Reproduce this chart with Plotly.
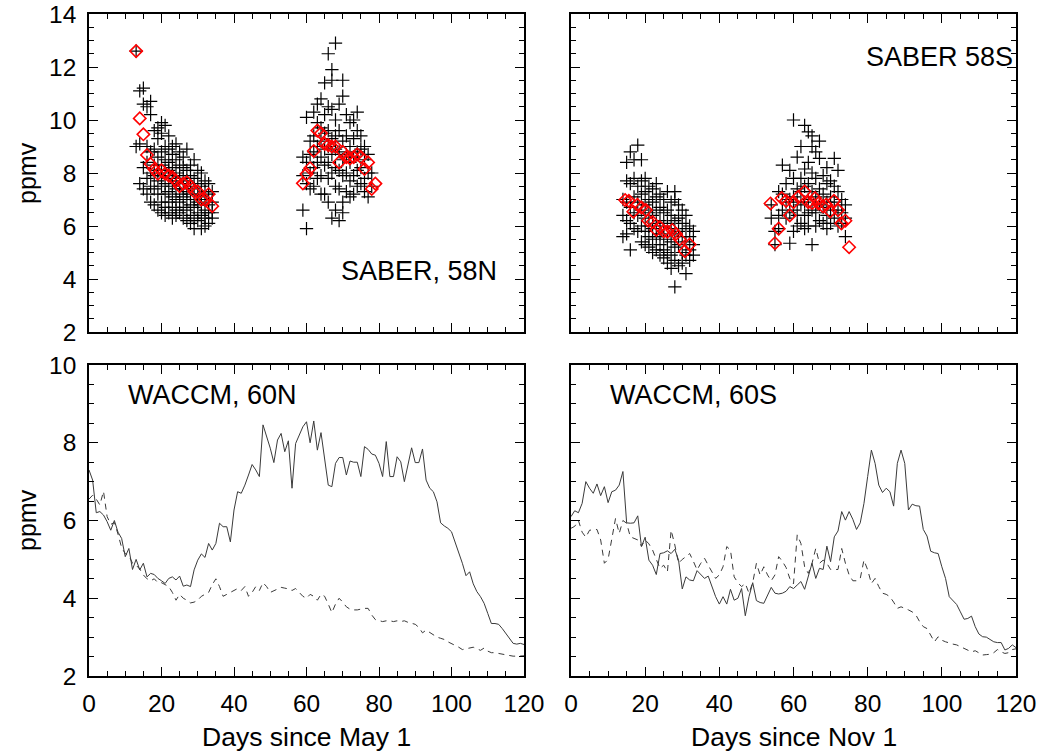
import plotly.graph_objects as go

# ---------------- SABER individual retrievals (day -> ppmv) ----------------
saber_58n_points = {
    13: [12.6, 9.0],
    14: [11.1, 9.1, 7.6],
    15: [11.2, 10.6, 8.2, 7.4],
    16: [10.5, 9.0, 8.4, 7.8, 7.2],
    17: [10.7, 10.2, 8.8, 8.0, 7.5, 6.9],
    18: [9.6, 8.9, 8.3, 7.9, 7.4, 6.8],
    19: [9.7, 9.3, 8.6, 8.1, 7.7, 7.2, 6.6],
    20: [9.9, 9.5, 8.8, 8.3, 7.9, 7.5, 6.9, 6.5],
    21: [9.8, 9.0, 8.5, 8.0, 7.6, 7.2, 6.7, 6.4],
    22: [9.4, 8.9, 8.4, 8.1, 7.8, 7.3, 6.9, 6.5],
    23: [9.0, 8.7, 8.2, 7.9, 7.5, 7.1, 6.7, 6.3],
    24: [9.1, 8.5, 8.0, 7.7, 7.4, 7.0, 6.6, 6.4],
    25: [8.8, 8.3, 7.9, 7.6, 7.2, 6.9, 6.5],
    26: [8.6, 8.2, 7.8, 7.4, 7.1, 6.7, 6.3],
    27: [8.9, 8.1, 7.7, 7.3, 7.0, 6.6, 6.2],
    28: [8.3, 7.9, 7.5, 7.2, 6.8, 6.4, 6.1],
    29: [8.5, 7.8, 7.4, 7.0, 6.7, 6.3, 5.9],
    30: [8.1, 7.6, 7.2, 6.9, 6.5, 6.2],
    31: [8.0, 7.5, 7.1, 6.8, 6.4, 5.9],
    32: [7.7, 7.3, 7.0, 6.6, 6.3, 6.0],
    33: [7.6, 7.2, 6.8, 6.5, 6.1],
    34: [7.3, 6.9, 6.5, 6.3],
    59: [8.6, 7.9, 6.6],
    60: [10.1, 8.4, 7.6, 5.9],
    61: [9.2, 8.7, 8.0, 7.4],
    62: [10.3, 9.4, 8.8, 8.2, 7.5],
    63: [10.6, 9.9, 9.0, 8.4, 7.8],
    64: [10.8, 9.7, 9.2, 8.6, 7.9, 7.2],
    65: [11.4, 10.2, 9.5, 8.9, 8.3, 7.2],
    66: [12.5, 10.5, 9.6, 9.0, 8.4, 7.8, 6.9],
    67: [11.9, 11.5, 10.4, 9.3, 8.7, 8.0, 6.3],
    68: [12.9, 10.0, 9.4, 8.9, 8.2, 7.5, 6.6],
    69: [10.6, 9.6, 8.8, 8.1, 7.4, 6.2],
    70: [11.5, 10.9, 9.2, 8.5, 7.9, 6.9, 6.5],
    71: [10.2, 9.4, 8.7, 8.0, 7.3],
    72: [9.9, 9.0, 8.4, 7.7, 7.1],
    73: [10.0, 9.3, 8.6, 7.9, 7.2],
    74: [10.3, 9.6, 8.8, 8.1, 7.5],
    75: [9.4, 8.9, 8.2, 7.6],
    76: [9.0, 8.5, 7.8, 7.3],
    77: [8.7, 8.0, 7.1],
    78: [8.0, 7.5],
}

saber_58s_points = {
    14: [7.0, 6.4, 5.6],
    15: [8.4, 7.7, 6.9, 6.2, 5.7],
    16: [8.8, 7.6, 6.7, 6.1, 5.1],
    17: [8.5, 7.8, 7.1, 6.5, 5.9],
    18: [9.05, 7.5, 6.9, 6.4, 5.8],
    19: [8.5, 7.7, 7.2, 6.6, 6.0, 5.4],
    20: [7.8, 7.3, 6.8, 6.3, 5.8, 5.3],
    21: [7.5, 7.0, 6.5, 6.0, 5.6, 5.2],
    22: [7.4, 6.9, 6.4, 5.9, 5.5, 5.0],
    23: [7.6, 7.1, 6.6, 6.1, 5.6, 5.1],
    24: [7.2, 6.7, 6.2, 5.7, 5.3, 4.9],
    25: [7.0, 6.5, 6.0, 5.6, 5.1, 4.8],
    26: [7.3, 6.6, 6.1, 5.5, 5.0, 4.6],
    27: [6.9, 6.4, 5.9, 5.4, 4.9, 4.4],
    28: [7.3, 7.0, 6.2, 5.7, 5.2, 4.7, 3.7],
    29: [6.8, 6.3, 5.8, 5.3, 4.5],
    30: [6.6, 6.1, 5.6, 5.0, 4.6],
    31: [6.4, 5.9, 5.4, 4.9, 4.2],
    32: [6.0, 5.6, 5.1, 4.7],
    33: [5.8, 5.3, 4.9],
    54: [6.8, 6.3],
    55: [5.8, 5.3],
    56: [7.3, 6.4, 5.9],
    57: [8.3, 7.2, 6.6],
    58: [7.6, 6.9, 6.3],
    59: [8.1, 7.0, 6.5, 5.35],
    60: [10.0, 7.8, 7.1, 6.6, 5.8],
    61: [8.6, 7.4, 6.9, 6.4, 6.0],
    62: [9.0, 7.8, 7.3, 6.8, 6.1],
    63: [9.8, 8.15, 7.5, 6.9, 6.4, 5.9],
    64: [9.55, 8.4, 7.6, 7.0, 6.5, 6.0],
    65: [9.4, 9.0, 8.0, 7.3, 6.6, 5.3],
    66: [8.8, 7.8, 7.1, 6.5, 6.0],
    67: [9.2, 8.55, 7.4, 6.8, 6.2],
    68: [7.9, 7.2, 6.7, 6.1],
    69: [8.2, 7.6, 6.9, 6.4, 5.9],
    70: [7.7, 7.1, 6.6, 6.1],
    71: [8.55, 7.5, 6.9, 6.3],
    72: [8.1, 7.3, 6.6, 6.0],
    73: [7.0, 6.5, 6.1],
    74: [6.8, 6.3, 5.6],
}

# ---------------- SABER daily means ----------------
saber_58n_mean_days = [13, 14, 15, 16, 17, 18, 19, 20, 21, 22, 23, 24, 25, 26, 27, 28,
                       29, 30, 31, 32, 33, 34,
                       59, 60, 61, 62, 63, 64, 65, 66, 67, 68, 69, 70, 71, 72, 73, 74,
                       75, 76, 77, 78, 79]
saber_58n_mean = [12.6, 10.06, 9.46, 8.68, 8.34, 8.14, 7.97, 8.1, 7.97, 7.9, 7.85, 7.7,
                  7.5, 7.6, 7.65, 7.5, 7.3, 7.3, 7.0, 7.0, 7.2, 6.75,
                  7.61, 7.96, 8.18, 8.83, 9.6, 9.5, 9.1, 9.05, 9.0, 9.0, 8.4, 8.8, 8.6,
                  8.55, 8.6, 8.7, 8.6, 8.15, 8.4, 7.4, 7.6]

saber_58s_mean_days = [14.6, 15.6, 16.8, 17.9, 19.0, 20.2, 20.8, 22.0, 23.0, 24.0, 25.0,
                       26.0, 27.3, 28.3, 29.3, 30.7, 32.0,
                       53.8, 55.0, 56.0, 56.8, 58.0, 59.0, 60.0, 61.3, 63.0, 64.0, 65.0,
                       65.8, 66.7, 67.9, 68.8, 69.9, 70.9, 72.0, 72.9, 74.0, 75.0]
saber_58s_mean = [6.98, 6.95, 6.54, 6.8, 6.7, 6.6, 6.2, 6.15, 5.85, 5.95, 5.8,
                  5.79, 5.85, 5.7, 5.5, 5.05, 5.3,
                  6.85, 5.35, 5.9, 7.05, 6.95, 6.4, 6.9, 7.1, 7.3, 6.9, 6.87,
                  7.05, 6.85, 6.75, 6.8, 6.55, 6.95, 6.6, 6.1, 6.2, 5.2]

# ---------------- WACCM daily series, days 0..120 ----------------
waccm_days = list(range(121))

waccm_60n_solid = [
    7.30, 7.04, 6.20, 6.23, 6.14, 5.97, 5.75, 6.00, 5.70, 5.54,
    5.07, 5.28, 4.74, 5.00, 4.73, 4.90, 4.55, 4.64, 4.61, 4.51,
    4.45, 4.38, 4.51, 4.55, 4.47, 4.57, 4.31, 4.34, 4.30, 4.73,
    4.98, 5.14, 5.05, 5.41, 5.24, 5.41, 5.93, 5.84, 5.84, 5.45,
    6.27, 6.74, 6.70, 6.91, 7.17, 7.44, 7.30, 7.13, 8.46, 8.16,
    7.86, 7.49, 8.07, 8.24, 7.77, 8.05, 6.83, 7.98, 8.20, 8.41,
    8.54, 8.00, 8.56, 7.81, 8.26, 7.56, 6.91, 6.87, 7.47, 7.62,
    7.62, 7.17, 7.53, 7.50, 7.50, 7.13, 7.90, 7.83, 7.71, 7.68,
    7.47, 7.13, 8.03, 7.13, 7.13, 7.64, 7.51, 7.00, 7.47, 7.87,
    7.49, 7.49, 7.84, 7.04, 6.83, 6.74, 6.48, 5.94, 5.86, 5.80,
    5.71, 5.45, 5.15, 4.90, 4.58, 4.68, 4.37, 4.17, 4.04, 3.87,
    3.61, 3.35, 3.35, 3.33, 3.22, 3.10, 2.97, 2.84, 2.82, 2.84, 2.81,
]
waccm_60n_dash = [
    6.55, 6.65, 6.55, 6.40, 6.75, 6.10, 5.90, 5.95, 5.65, 5.30,
    5.15, 5.10, 4.90, 4.85, 4.75, 4.60, 4.50, 4.45, 4.50, 4.40,
    4.40, 4.35, 4.30, 4.15, 3.95, 4.10, 4.00, 3.95, 3.88, 3.90,
    3.95, 4.05, 4.10, 4.15, 4.35, 4.50, 4.30, 4.05, 4.10, 4.15,
    4.20, 4.25, 4.20, 4.30, 4.05, 4.15, 4.30, 4.20, 4.40, 4.30,
    4.15, 4.20, 4.25, 4.28, 4.26, 4.24, 4.20, 4.25, 4.15, 4.05,
    4.00, 4.10, 4.05, 3.95, 4.10, 4.05, 3.85, 3.63, 3.85, 4.00,
    3.90, 3.78, 3.72, 3.70, 3.70, 3.72, 3.74, 3.74, 3.57, 3.45,
    3.42, 3.40, 3.42, 3.42, 3.40, 3.42, 3.40, 3.42, 3.38, 3.35,
    3.33, 3.25, 3.11, 3.18, 3.12, 3.05, 3.00, 2.97, 2.94, 2.88,
    2.84, 2.80, 2.74, 2.68, 2.70, 2.72, 2.74, 2.70, 2.66, 2.72,
    2.64, 2.60, 2.60, 2.58, 2.56, 2.55, 2.53, 2.51, 2.51, 2.51, 2.52,
]
waccm_60s_solid = [
    6.10, 6.25, 6.20, 6.44, 7.00, 6.83, 6.70, 6.94, 6.64, 6.87,
    6.46, 6.74, 6.78, 6.91, 7.26, 5.94, 5.93, 5.94, 6.12, 5.33,
    5.57, 4.98, 4.85, 4.61, 5.15, 5.17, 5.22, 5.15, 5.26, 4.98,
    4.24, 4.55, 4.47, 4.45, 4.71, 4.60, 4.51, 4.57, 4.30, 4.04,
    3.85, 4.04, 3.85, 4.23, 3.95, 4.00, 4.25, 3.55, 4.04, 4.40,
    3.94, 3.89, 3.87, 4.08, 4.28, 4.13, 4.11, 4.13, 4.18, 4.30,
    4.25, 4.34, 4.43, 4.23, 4.55, 4.90, 4.51, 4.77, 4.74, 5.34,
    4.94, 5.58, 5.73, 6.23, 6.01, 6.23, 6.03, 5.77, 5.94, 6.44,
    7.13, 7.81, 7.47, 6.91, 6.72, 6.83, 6.74, 6.37, 7.47, 7.81,
    7.47, 6.27, 6.42, 6.38, 6.37, 5.77, 5.60, 5.21, 5.17, 5.15,
    4.81, 4.51, 4.04, 3.95, 3.84, 3.65, 3.46, 3.48, 3.54, 3.27,
    3.08, 3.01, 3.00, 2.94, 2.88, 2.86, 2.86, 2.67, 2.71, 2.80, 2.73,
]
waccm_60s_dash = [
    5.80, 5.85, 6.00, 5.70, 5.57, 5.75, 5.76, 5.77, 5.50, 4.90,
    5.00, 5.58, 6.05, 5.67, 6.00, 5.93, 5.58, 5.54, 5.50, 5.34,
    5.50, 5.40, 5.24, 5.00, 4.77, 4.85, 4.68, 5.75, 5.37, 4.90,
    5.00, 5.07, 5.15, 4.95, 4.73, 4.90, 5.03, 4.85, 4.68, 4.51,
    4.60, 4.81, 5.33, 5.24, 4.55, 4.40, 4.30, 4.38, 4.13, 4.40,
    4.90, 4.60, 4.81, 4.60, 4.45, 4.60, 5.07, 4.95, 4.79, 4.51,
    4.37, 5.63, 5.41, 4.81, 4.64, 4.90, 5.28, 4.90, 4.98, 4.90,
    4.74, 4.74, 4.74, 5.28, 4.90, 4.60, 4.45, 4.45, 4.51, 4.98,
    4.73, 4.38, 4.51, 4.30, 4.13, 4.10, 4.04, 3.90, 3.74, 3.78,
    3.75, 3.70, 3.65, 3.57, 3.40, 3.27, 3.22, 3.05, 2.88, 3.01,
    2.92, 2.88, 2.84, 2.82, 2.80, 2.76, 2.71, 2.66, 2.62, 2.65,
    2.60, 2.54, 2.55, 2.56, 2.60, 2.68, 2.62, 2.58, 2.60, 2.68, 2.70,
]

x_ticks = [0, 20, 40, 60, 80, 100, 120]
top_y_ticks = [2, 4, 6, 8, 10, 12, 14]
bottom_y_ticks = [2, 4, 6, 8, 10]

FONT = "Liberation Sans, Arial, sans-serif"
W, H = 1052, 754

# panel rectangles in pixels: (left, right, top, bottom)
panels = {
    "tl": (89, 524, 14, 332),
    "tr": (571, 1016, 14, 332),
    "bl": (89, 524, 365, 676),
    "br": (571, 1016, 365, 676),
}


def xdom(p):
    l, r, _, _ = panels[p]
    return [l / W, r / W]


def ydom(p):
    _, _, t, b = panels[p]
    return [1 - b / H, 1 - t / H]


def flatten(points):
    xs, ys = [], []
    for d, vals in points.items():
        for v in vals:
            xs.append(d)
            ys.append(v)
    return xs, ys


fig = go.Figure()

cross = dict(symbol="cross-thin", size=9.5, line=dict(color="black", width=1.2))
diamond = dict(symbol="diamond-open", size=9.5, color="#ff0000",
               line=dict(color="#ff0000", width=1.6))

# top-left: SABER 58N
xs, ys = flatten(saber_58n_points)
fig.add_trace(go.Scatter(x=xs, y=ys, mode="markers", marker=cross,
                         xaxis="x", yaxis="y", showlegend=False))
fig.add_trace(go.Scatter(x=saber_58n_mean_days, y=saber_58n_mean, mode="markers",
                         marker=diamond, xaxis="x", yaxis="y", showlegend=False))

# top-right: SABER 58S
xs, ys = flatten(saber_58s_points)
fig.add_trace(go.Scatter(x=xs, y=ys, mode="markers", marker=cross,
                         xaxis="x2", yaxis="y2", showlegend=False))
fig.add_trace(go.Scatter(x=saber_58s_mean_days, y=saber_58s_mean, mode="markers",
                         marker=diamond, xaxis="x2", yaxis="y2", showlegend=False))

solid = dict(color="#3a3a3a", width=1)
dashed = dict(color="#3a3a3a", width=1, dash="6px,5px")

# bottom-left: WACCM 60N
fig.add_trace(go.Scatter(x=waccm_days, y=waccm_60n_solid, mode="lines", line=solid,
                         xaxis="x3", yaxis="y3", showlegend=False))
fig.add_trace(go.Scatter(x=waccm_days, y=waccm_60n_dash, mode="lines", line=dashed,
                         xaxis="x3", yaxis="y3", showlegend=False))

# bottom-right: WACCM 60S
fig.add_trace(go.Scatter(x=waccm_days, y=waccm_60s_solid, mode="lines", line=solid,
                         xaxis="x4", yaxis="y4", showlegend=False))
fig.add_trace(go.Scatter(x=waccm_days, y=waccm_60s_dash, mode="lines", line=dashed,
                         xaxis="x4", yaxis="y4", showlegend=False))

tick_font = dict(family=FONT, size=24.5, color="black")


def xaxis(p, anchor, labels):
    return dict(
        domain=xdom(p), anchor=anchor, range=[0, 120],
        tickvals=x_ticks, showticklabels=labels, tickfont=tick_font,
        ticks="inside", ticklen=9, tickwidth=1.3, tickcolor="black",
        minor=dict(dtick=5, ticks="inside", ticklen=5, tickwidth=1.3, tickcolor="black"),
        showline=True, linecolor="black", linewidth=1.5, mirror="ticks",
        showgrid=False, zeroline=False, ticklabelstandoff=5,
    )


def yaxis(p, anchor, rng, ticks, labels):
    return dict(
        domain=ydom(p), anchor=anchor, range=rng,
        tickvals=ticks, showticklabels=labels, tickfont=tick_font,
        ticks="inside", ticklen=9, tickwidth=1.3, tickcolor="black",
        minor=dict(dtick=0.5, ticks="inside", ticklen=5, tickwidth=1.3, tickcolor="black"),
        showline=True, linecolor="black", linewidth=1.5, mirror="ticks",
        showgrid=False, zeroline=False, ticklabelstandoff=6,
    )


fig.update_layout(
    width=W, height=H, autosize=False,
    margin=dict(l=0, r=0, t=0, b=0, autoexpand=False),
    paper_bgcolor="white", plot_bgcolor="white",
    xaxis=xaxis("tl", "y", False),
    yaxis=yaxis("tl", "x", [2, 14], top_y_ticks, True),
    xaxis2=xaxis("tr", "y2", False),
    yaxis2=yaxis("tr", "x2", [2, 14], top_y_ticks, False),
    xaxis3=xaxis("bl", "y3", True),
    yaxis3=yaxis("bl", "x3", [2, 10], bottom_y_ticks, True),
    xaxis4=xaxis("br", "y4", True),
    yaxis4=yaxis("br", "x4", [2, 10], bottom_y_ticks, False),
)

label_font = dict(family=FONT, size=27, color="black")
ytitle_font = dict(family=FONT, size=25, color="black")
xtitle_font = dict(family=FONT, size=26.5, color="black")

annotations = [
    dict(text="SABER, 58N", xref="x domain", yref="y domain", x=0.943, y=0.192,
         xanchor="right", yanchor="middle", showarrow=False, font=label_font),
    dict(text="SABER 58S", xref="x2 domain", yref="y2 domain", x=0.998, y=0.865,
         xanchor="right", yanchor="middle", showarrow=False, font=label_font),
    dict(text="WACCM, 60N", xref="x3 domain", yref="y3 domain", x=0.084, y=0.9035,
         xanchor="left", yanchor="middle", showarrow=False, font=label_font),
    dict(text="WACCM, 60S", xref="x4 domain", yref="y4 domain", x=0.083, y=0.9035,
         xanchor="left", yanchor="middle", showarrow=False, font=label_font),
    dict(text="ppmv", xref="paper", yref="paper", x=27 / W, y=1 - 173 / H,
         xanchor="center", yanchor="middle", textangle=-90, showarrow=False, font=ytitle_font),
    dict(text="ppmv", xref="paper", yref="paper", x=27 / W, y=1 - 520 / H,
         xanchor="center", yanchor="middle", textangle=-90, showarrow=False, font=ytitle_font),
    dict(text="Days since May 1", xref="paper", yref="paper", x=306.5 / W, y=1 - 737 / H,
         xanchor="center", yanchor="middle", showarrow=False, font=xtitle_font),
    dict(text="Days since Nov 1", xref="paper", yref="paper", x=793.5 / W, y=1 - 737 / H,
         xanchor="center", yanchor="middle", showarrow=False, font=xtitle_font),
]
fig.update_layout(annotations=annotations)

fig.write_html("out.html")
